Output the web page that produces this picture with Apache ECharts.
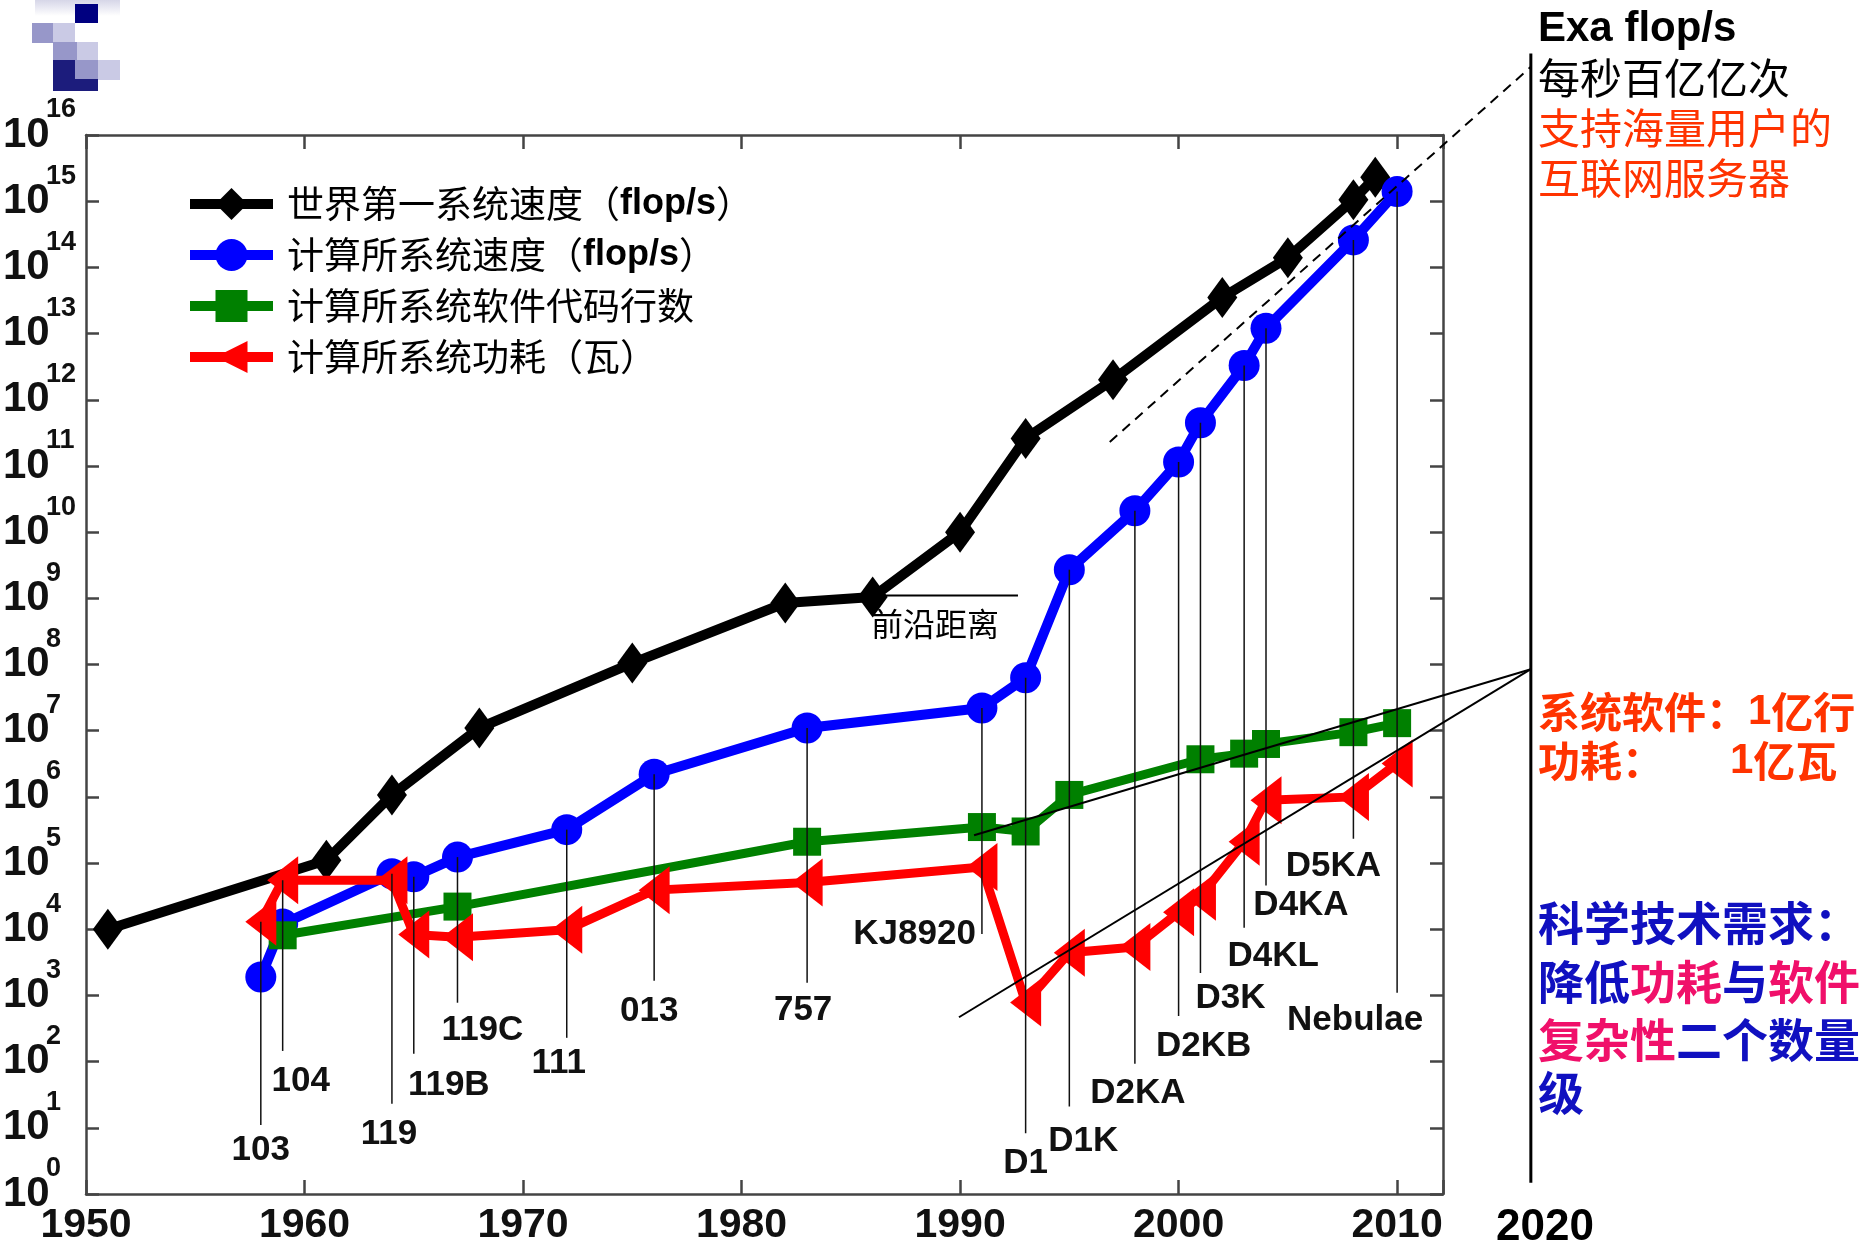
<!DOCTYPE html>
<html>
<head>
<meta charset="utf-8">
<script src="https://cdn.jsdelivr.net/npm/echarts@6/dist/echarts.min.js"></script>
<style>
  html, body { margin: 0; padding: 0; background: #fff; }
  #chart { width: 1874px; height: 1253px; }
</style>
</head>
<body>
<div id="chart"></div>
<script>
/* ---------------- data ---------------- */
// 世界第一系统速度 (flop/s)
const worldYears = [1951, 1961, 1964, 1968, 1975, 1982, 1986, 1990, 1993, 1997, 2002, 2005, 2008, 2009];
const worldSpeed = [1e4, 1.1e5, 1.07e6, 1.1e7, 1.05e8, 8.5e8, 1.05e9, 1e10, 2.6e11, 2e12, 3.5e13, 1.4e14, 1.05e15, 2.3e15];

// 计算所系统速度 (flop/s)
const ictYears = [1958, 1959, 1964, 1965, 1967, 1972, 1976, 1983, 1991, 1993, 1995, 1998, 2000, 2001, 2003, 2004, 2008, 2010];
const ictSpeed = [1.9e3, 1.2e4, 6.9e4, 6.2e4, 1.23e5, 3.2e5, 2.2e6, 1.1e7, 2.2e7, 6.3e7, 2.7e9, 2.1e10, 1.15e11, 4.5e11, 3.3e12, 1.2e13, 2.6e14, 1.4e15];

// 计算所系统软件代码行数
const codeYears = [1959, 1967, 1983, 1991, 1993, 1995, 2001, 2003, 2004, 2008, 2010];
const codeLines = [8.1e3, 2.2e4, 2.1e5, 3.5e5, 3e5, 1.07e6, 3.7e6, 4.5e6, 6.3e6, 9.5e6, 1.3e7];

// 计算所系统功耗 (瓦)
const powerYears = [1958, 1959, 1964, 1965, 1967, 1972, 1976, 1983, 1991, 1993, 1995, 1998, 2000, 2001, 2003, 2004, 2008, 2010];
const powerWatts = [1.3e4, 5.5e4, 5.5e4, 8.3e3, 7.6e3, 9.8e3, 3.9e4, 5.1e4, 8.7e4, 780, 4.4e3, 5.4e3, 1.8e4, 3.1e4, 2.1e5, 8.9e5, 1e6, 3.2e6];

// machine call-outs: name, year, value where the pointer line ends
const machineNames = ['103', '104', '119', '119B', '119C', '111', '013', '757', 'KJ8920', 'D1', 'D1K', 'D2KA', 'D2KB', 'D3K', 'D4KL', 'D4KA', 'D5KA', 'Nebulae'];
const machineYears = [1958, 1959, 1964, 1965, 1967, 1972, 1976, 1983, 1991, 1993, 1995, 1998, 2000, 2001, 2003, 2004, 2008, 2010];
const machineLineEnd = [11, 145, 23, 132, 776, 229, 1660, 1550, 8500, 8.3, 21, 93, 490, 2190, 10500, 45700, 234000, 1100];

// helper lines of the slide (year, value)
const frontierLine = [[1986, 1.1e9], [1992.65, 1.1e9]];
const exaTrend = [[1996.85, 2.3e11], [2016.12, 1.07e17]];
const softwareTrend = [[1990.64, 2.63e5], [2016.12, 8.5e7]];
const powerTrend = [[1989.95, 468], [2016.12, 8.5e7]];
const year2020Line = [[2016.12, 1.48], [2016.12, 1.7e17]];

const yExponents = [0, 16];
const xYears = [1950, 2012.1];

/* ---------------- layout ---------------- */
// label centre offsets (px) from the lower end of each pointer line
const machineLabelOffset = [
  [0, 25], [18, 30], [-3, 30], [35, 32], [25, 28], [-8, 26], [-5, 30], [-4, 28], [-6, 0, 'right'],
  [0, 30], [14, 35], [3, 30], [25, 30], [30, 25], [29, 28], [35, 20], [-20, 28], [-42, 28]
];

const pair = (xs, ys) => xs.map((x, i) => [x, ys[i]]);
const valueAt = (xs, ys, yr) => {
  const i = xs.indexOf(yr);
  return i < 0 ? 0 : ys[i];
};
const machineTop = machineYears.map(yr =>
  Math.max(valueAt(ictYears, ictSpeed, yr), valueAt(codeYears, codeLines, yr), valueAt(powerYears, powerWatts, yr))
);

const frame = { color: '#444', width: 2.5 };
const cjk = '"Noto Sans CJK SC", sans-serif';
const latin = '"Liberation Sans", Arial, sans-serif';

const names = ['世界第一系统速度（flop/s）', '计算所系统速度（flop/s）', '计算所系统软件代码行数', '计算所系统功耗（瓦）'];

const logoCells = [
  [75, 4, 23, 19, '#000080'],
  [32, 23, 21, 20, '#9797c9'], [53, 23, 22, 20, '#cacae5'],
  [53, 42, 24, 19, '#9797c9'], [77, 42, 21, 19, '#cacae5'],
  [53, 60, 22, 20, '#1c1c7c'], [75, 60, 23, 20, '#9797c9'], [98, 60, 22, 20, '#cacae5'],
  [53, 79, 45, 12, '#1c1c7c']
];

const valueAxisY = (position, extra) => Object.assign({
  type: 'value', min: yExponents[0], max: yExponents[1], interval: 1, position: position,
  axisLine: { show: false, onZero: false },
  axisTick: { show: false },
  axisLabel: { show: false },
  splitLine: { show: false }
}, extra);

const chart = echarts.init(document.getElementById('chart'));

chart.setOption({
  animation: false,
  backgroundColor: '#fff',
  grid: { left: 83, right: 431, top: 135, bottom: 59 },
  legend: {
    data: names,
    orient: 'vertical',
    left: 185,
    top: 184,
    padding: 0,
    itemWidth: 83,
    itemHeight: 40,
    itemGap: 11,
    selectedMode: false,
    lineStyle: { width: 10 },
    textStyle: {
      fontFamily: cjk,
      fontSize: 37,
      color: '#000',
      lineHeight: 40,
      padding: [0, 0, 0, 9],
      rich: { b: { fontFamily: latin, fontWeight: 'bold', fontSize: 36, color: '#000' } }
    },
    formatter: name => name.replace('flop/s', '{b|flop/s}')
  },
  xAxis: [
    {
      type: 'value', min: xYears[0], max: xYears[1], interval: 10, position: 'bottom',
      axisLine: { onZero: false, lineStyle: frame },
      axisTick: { inside: true, length: 14, lineStyle: frame },
      axisLabel: {
        margin: 11, color: '#111', fontFamily: latin, fontWeight: 'bold', fontSize: 41,
        showMinLabel: true,
        formatter: v => (v % 10 === 0 ? String(v) : '')
      },
      splitLine: { show: false }
    },
    {
      type: 'value', min: xYears[0], max: xYears[1], interval: 10, position: 'top',
      axisLine: { onZero: false, lineStyle: frame },
      axisTick: { inside: true, length: 14, lineStyle: frame },
      axisLabel: { show: false },
      splitLine: { show: false }
    }
  ],
  yAxis: [
    {
      type: 'log', logBase: 10, min: 1, max: 1e16, position: 'left',
      axisLine: { onZero: false, lineStyle: frame },
      axisTick: { show: false }, axisLabel: { show: false }, splitLine: { show: false }
    },
    // "10" of the tick labels, plus left ticks
    valueAxisY('left', {
      axisTick: { inside: true, length: 13, lineStyle: frame },
      axisLabel: {
        align: 'left', margin: 83, color: '#111',
        fontFamily: latin, fontWeight: 'bold', fontSize: 42,
        showMinLabel: true, showMaxLabel: true,
        formatter: () => '10'
      }
    }),
    // exponent of the tick labels, raised above the tick
    valueAxisY('left', {
      axisLabel: {
        align: 'left', verticalAlign: 'bottom', lineHeight: 50, margin: 40, color: '#111',
        fontFamily: latin, fontWeight: 'bold', fontSize: 27,
        showMinLabel: true, showMaxLabel: true,
        formatter: v => String(v)
      }
    }),
    // right frame with ticks
    valueAxisY('right', {
      axisLine: { show: true, onZero: false, lineStyle: frame },
      axisTick: { inside: true, length: 13, lineStyle: frame }
    })
  ],
  series: [
    {
      name: names[0], type: 'line', data: pair(worldYears, worldSpeed), z: 2,
      symbol: 'diamond', symbolSize: [30, 41],
      lineStyle: { color: '#000', width: 10 }, itemStyle: { color: '#000' }
    },
    {
      name: names[1], type: 'line', data: pair(ictYears, ictSpeed), z: 3,
      symbol: 'circle', symbolSize: 31,
      lineStyle: { color: '#0000ff', width: 10 }, itemStyle: { color: '#0000ff' }
    },
    {
      name: names[2], type: 'line', data: pair(codeYears, codeLines), z: 4,
      symbol: 'rect', symbolSize: 28,
      lineStyle: { color: '#008000', width: 9 }, itemStyle: { color: '#008000' }
    },
    {
      name: names[3], type: 'line', data: pair(powerYears, powerWatts), z: 5,
      symbol: 'triangle', symbolSize: [48, 31], symbolRotate: 90,
      lineStyle: { color: '#ff0000', width: 9 }, itemStyle: { color: '#ff0000' }
    },
    {
      type: 'custom', z: 9, silent: true, clip: false,
      data: machineYears.map((yr, i) => [yr, machineTop[i], machineLineEnd[i], i]),
      renderItem: (params, api) => {
        const i = api.value(3);
        const top = api.coord([api.value(0), api.value(1)]);
        const end = api.coord([api.value(0), api.value(2)]);
        const off = machineLabelOffset[i];
        return {
          type: 'group',
          children: [
            {
              type: 'line',
              shape: { x1: top[0], y1: top[1], x2: end[0], y2: end[1] },
              style: { stroke: '#111', lineWidth: 1.5 }
            },
            {
              type: 'text',
              x: end[0] + off[0], y: end[1] + off[1],
              style: {
                text: machineNames[i], fill: '#111',
                font: 'bold 35px ' + latin,
                align: off[2] || 'center', verticalAlign: 'middle'
              }
            }
          ]
        };
      }
    }
  ]
});

/* ---------------- slide annotations ---------------- */
const toPx = p => chart.convertToPixel({ seriesIndex: 0 }, p);
const segment = (pts, style) => {
  const a = toPx(pts[0]);
  const b = toPx(pts[1]);
  return {
    type: 'line', z: 100, silent: true,
    shape: { x1: a[0], y1: a[1], x2: b[0], y2: b[1] },
    style: Object.assign({ stroke: '#000', lineWidth: 2 }, style)
  };
};
const label = (x, y, text, font, fill, extra) => ({
  type: 'text', x: x, y: y, z: 100, silent: true,
  style: Object.assign({ text: text, font: font, fill: fill, verticalAlign: 'middle' }, extra || {})
});
const redRich = {
  n: { font: 'bold 42px ' + cjk, fill: '#ff3300' },
  d: { font: 'bold 42px ' + latin, fill: '#ff3300' }
};
const blueRich = {
  bl: { font: 'bold 46px ' + cjk, fill: '#1010c0' },
  pk: { font: 'bold 46px ' + cjk, fill: '#f0106a' }
};

chart.setOption({
  graphic: [
    {
      type: 'rect', shape: { x: 35, y: 0, width: 85, height: 16 },
      style: {
        fill: new echarts.graphic.LinearGradient(0, 0, 0, 1, [
          { offset: 0, color: '#d6d6e8' }, { offset: 1, color: '#ffffff' }
        ])
      }
    },
    ...logoCells.map(c => ({
      type: 'rect', shape: { x: c[0], y: c[1], width: c[2], height: c[3] }, style: { fill: c[4] }
    })),
    segment(frontierLine),
    segment(exaTrend, { lineDash: [10, 7] }),
    segment(softwareTrend),
    segment(powerTrend),
    segment(year2020Line, { lineWidth: 3 }),
    label(935, 624, '前沿距离', '32px ' + cjk, '#000', { align: 'center' }),
    label(1545, 1228, '2020', 'bold 44px ' + latin, '#000', { align: 'center' }),
    label(1538, 29, 'Exa flop/s', 'bold 42px ' + latin, '#000'),
    label(1538, 78, '每秒百亿亿次', '42px ' + cjk, '#000'),
    label(1538, 128, '支持海量用户的', '42px ' + cjk, '#ff3300'),
    label(1538, 178, '互联网服务器', '42px ' + cjk, '#ff3300'),
    label(1538, 712, '{n|系统软件：}{d|1}{n|亿行}', null, null, { rich: redRich }),
    label(1538, 761, '{n|功耗：}', null, null, { rich: redRich }),
    label(1730, 761, '{d|1}{n|亿瓦}', null, null, { rich: redRich }),
    label(1538, 923, '{bl|科学技术需求：}', null, null, { rich: blueRich }),
    label(1538, 982, '{bl|降低}{pk|功耗}{bl|与}{pk|软件}', null, null, { rich: blueRich }),
    label(1538, 1040, '{pk|复杂性}{bl|二个数量}', null, null, { rich: blueRich }),
    label(1538, 1093, '{bl|级}', null, null, { rich: blueRich })
  ]
});
</script>
</body>
</html>
